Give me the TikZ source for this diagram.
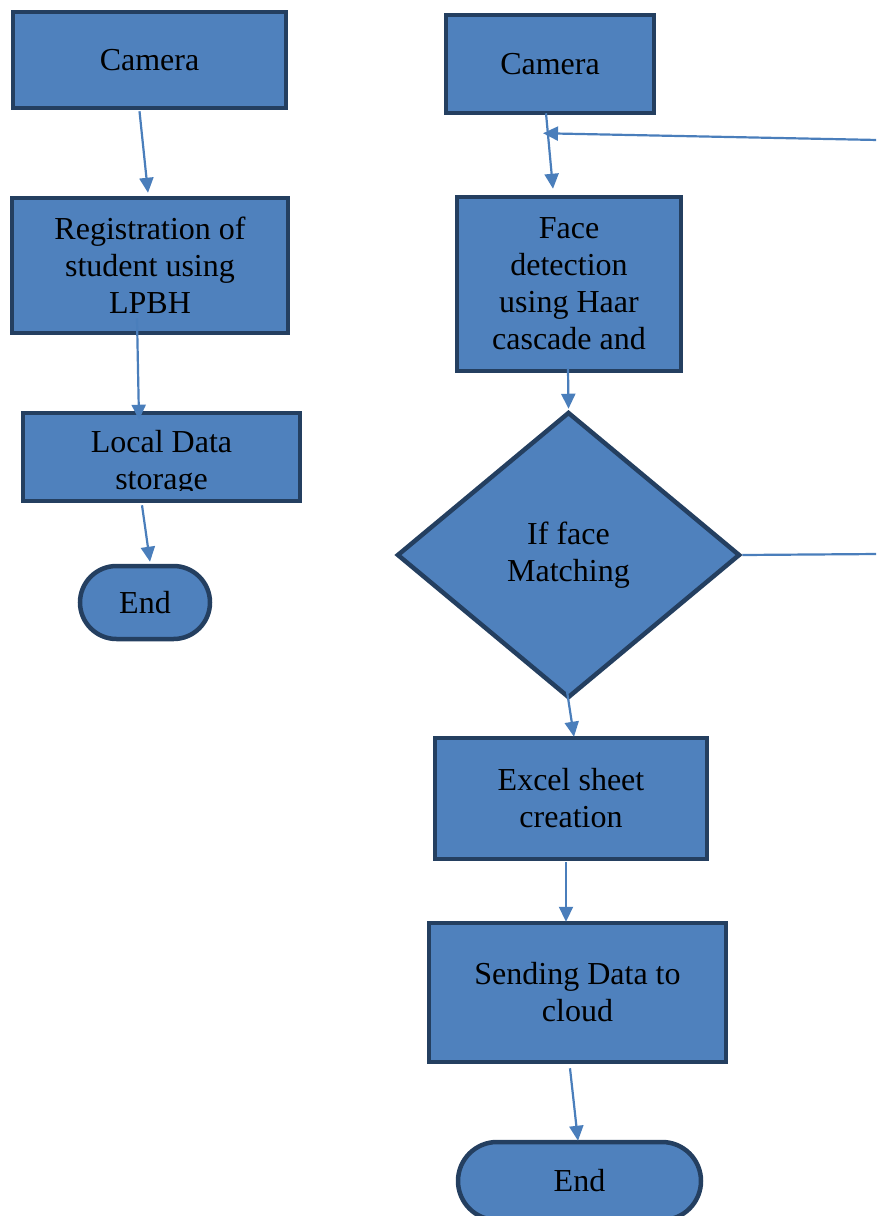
\documentclass[tikz,border=0pt]{standalone}
\usepackage{fontspec}
\setmainfont{Liberation Serif}
\usetikzlibrary{arrows.meta,shapes.geometric,shapes.misc,calc}
\definecolor{boxfill}{HTML}{4F81BD}
\definecolor{boxline}{HTML}{243F60}
\definecolor{arrowcol}{HTML}{4A7EBB}
\tikzset{
  box/.style={rectangle,fill=boxfill,draw=boxline,line width=4.5pt,inner sep=0pt,align=center,
    font=\fontsize{32}{37}\selectfont},
  endbox/.style={box,rounded rectangle},
  decision/.style={box,diamond},
  txt/.style={inner sep=0pt,align=center,font=\fontsize{32}{37}\selectfont},
  conn/.style={draw=arrowcol,line width=2.2pt,-{Triangle[length=15pt,width=14pt]}},
  plainconn/.style={draw=arrowcol,line width=2.2pt}
}
\begin{document}
\begin{tikzpicture}[x=1pt,y=-1pt]
\useasboundingbox (0,0) rectangle (876,1216);
\clip (0,0) rectangle (876,1216);
% left column
\node[box,minimum width=273pt,minimum height=96pt] (camL) at (149.5,60) {Camera};
\node[box,minimum width=276pt,minimum height=135pt] (reg) at (150,265.5) {Registration of\\student using\\LPBH};
\node[box,minimum width=277pt,minimum height=88pt] (local) at (161.5,457) {};
\begin{scope}
  \clip (21,411) rectangle (302,490);
  \node[txt] (localtxt) at (161.5,463) {Local Data\\storage};
\end{scope}
\node[endbox,minimum width=130pt,minimum height=73pt] (endL) at (145,602.5) {End};
% right column
\node[box,minimum width=208pt,minimum height=98pt] (camR) at (550,64) {Camera};
\node[box,minimum width=224pt,minimum height=174pt] (face) at (569,284) {Face\\detection\\using Haar\\cascade and};
\node[decision,minimum width=343pt,minimum height=286pt] (dia) at (568.5,555) {If face\\Matching};
\node[box,minimum width=272pt,minimum height=121pt] (excel) at (571,798.5) {Excel sheet\\creation};
\node[box,minimum width=297pt,minimum height=139pt] (send) at (577.5,992.5) {Sending Data to\\cloud};
\node[endbox,minimum width=243pt,minimum height=78pt] (endR) at (579.5,1181) {End};
\coordinate (fb) at (878,140);
\coordinate (dright) at (878,554);
% connectors left
\draw[conn] ($(camL.south)+(-10,1)$) -- ($(reg.north)+(-2,-3)$);
\draw[conn] ($(reg.south)+(-13,-17)$) -- ($(local.north)+(-22.5,9)$);
\draw[conn] ($(local.south)+(-19.5,2)$) -- ($(endL.north)+(5,-2)$);
% connectors right
\draw[conn] ($(camR.south)+(-4,-2)$) -- ($(face.north)+(-16,-6)$);
\draw[conn] (fb) -- ($(camR.south)+(-7,18)$);
\draw[conn] ($(face.south)+(-1,-5)$) -- ($(dia.north)+(0,-1)$);
\draw[plainconn] (dia.east) -- (dright);
\draw[conn] ($(dia.south)+(-1.5,-9)$) -- ($(excel.north)+(3,1)$);
\draw[conn] ($(excel.south)+(-5,1)$) -- ($(send.north)+(-11.5,1)$);
\draw[conn] ($(send.south)+(-7.5,4)$) -- ($(endR.north)+(-1.5,1)$);
\end{tikzpicture}
\end{document}
